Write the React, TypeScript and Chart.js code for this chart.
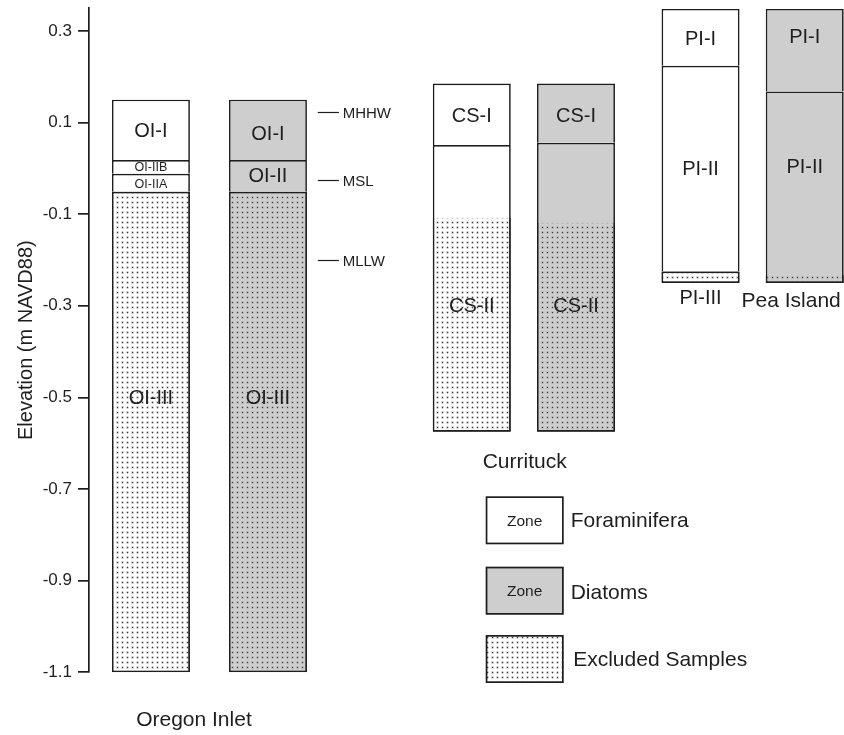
import React, { useEffect, useRef } from 'react';
import { Chart, registerables } from 'chart.js';

Chart.register(...registerables);

// ---------------- data ----------------
const yTickValues = [0.3, 0.1, -0.1, -0.3, -0.5, -0.7, -0.9, -1.1];

// columns: Oregon Inlet (forams, diatoms), Currituck (forams, diatoms), Pea Island (forams, diatoms)
const columnGroup = ['foram', 'diatom', 'foram', 'diatom', 'foram', 'diatom'];

const zoneNames = ['OI-I', 'OI-IIB', 'OI-IIA', 'OI-III', 'OI-I', 'OI-II', 'OI-III', 'CS-I', 'CS-II', 'CS-I', 'CS-II', 'PI-I', 'PI-II', 'PI-III', 'PI-I', 'PI-II'];
const zoneColumn = [0, 0, 0, 0, 1, 1, 1, 2, 2, 3, 3, 4, 4, 4, 5, 5];
const zoneTop = [0.15, 0.018, -0.012, -0.051, 0.15, 0.018, -0.051, 0.185, 0.051, 0.185, 0.056, 0.348, 0.224, -0.225, 0.348, 0.168];
const zoneBottom = [0.018, -0.012, -0.051, -1.1, 0.018, -0.051, -1.1, 0.051, -0.575, 0.056, -0.575, 0.224, -0.225, -0.25, 0.168, -0.25];
const zoneLabelElevation = [0.082, 0.003, -0.034, -0.5, 0.076, -0.016, -0.5, 0.116, -0.3, 0.116, -0.3, 0.283, 0.0, -0.281, 0.287, 0.004];

const excludedColumn = [0, 1, 2, 3, 4, 5];
const excludedTop = [-0.051, -0.051, -0.108, -0.119, -0.225, -0.233];
const excludedBottom = [-1.1, -1.1, -0.575, -0.575, -0.25, -0.25];

const datumNames = ['MHHW', 'MSL', 'MLLW'];
const datumElevation = [0.124, -0.026, -0.2];

const siteNames = ['Oregon Inlet', 'Currituck', 'Pea Island'];
const legendLabels = ['Foraminifera', 'Diatoms', 'Excluded Samples'];
const legendBoxText = ['Zone', 'Zone', ''];

// ---------------- layout (x in 0..100 chart units) ----------------
const columnX = [8.2, 23.7, 50.7, 64.5, 81.0, 94.8];
const siteLabelX = [13.9, 57.7, 93.0];
const siteLabelY = [-1.205, -0.6415, -0.289];
const datumLineX = [30.3, 33.1];
const datumTextX = 33.6;
const legendLeftPx = 485.7;
const legendTopsPx = [496.3, 566.7, 635];
const legendBoxW = 78;
const legendBoxH = 48;

const FONT = "'Liberation Sans', Arial, Helvetica, sans-serif";
const INK = '#1e1e1e';
const GRAY = '#cecece';
const BW = 1.7;

export default function App() {
  const ref = useRef<HTMLCanvasElement>(null);

  useEffect(() => {
    const canvas = ref.current!;
    const mainCtx = canvas.getContext('2d')!;
    const makePattern = (bg: string) => {
      const pc = document.createElement('canvas');
      pc.width = 5;
      pc.height = 5;
      const p = pc.getContext('2d')!;
      p.fillStyle = bg;
      p.fillRect(0, 0, 5, 5);
      p.fillStyle = '#9a9a9a';
      p.fillRect(1.5, 1.5, 2, 2);
      p.fillStyle = '#3a3a3a';
      p.fillRect(2, 2, 1, 1);
      return mainCtx.createPattern(pc, 'repeat')!;
    };
    const dotsWhite = makePattern('#ffffff');
    const dotsGray = makePattern(GRAY);

    const lowestInColumn = (c: number) =>
      Math.min(...zoneBottom.filter((_, i) => zoneColumn[i] === c));

    const zonePoints = (group: string) =>
      zoneNames
        .map((name, i) => ({ i, name }))
        .filter(({ i }) => columnGroup[zoneColumn[i]] === group)
        .map(({ i, name }) => {
          const c = zoneColumn[i];
          const isLowest = Math.abs(zoneBottom[i] - lowestInColumn(c)) < 1e-9;
          return {
            x: columnX[c],
            y: [zoneBottom[i], zoneTop[i]],
            name,
            bw: { top: BW, left: BW, right: BW, bottom: isLowest ? BW : 0 },
          };
        });

    const excludedPoints = excludedColumn.map((c, k) => {
      const onBoundary = zoneBottom.some(
        (b, i) => zoneColumn[i] === c && Math.abs(b - excludedTop[k]) < 1e-9
      );
      return {
        x: columnX[c],
        y: [excludedBottom[k], excludedTop[k]],
        group: columnGroup[c],
        bw: { top: onBoundary ? BW : 0, left: BW, right: BW, bottom: BW },
      };
    });

    const bwFn = (ctx: any) => (ctx.raw && ctx.raw.bw ? ctx.raw.bw : BW);

    const textPlugin = {
      id: 'textPlugin',
      afterDraw(chart: any) {
        const ctx = chart.ctx as CanvasRenderingContext2D;
        const xs = chart.scales.x;
        const ys = chart.scales.y;
        ctx.save();
        ctx.fillStyle = INK;
        ctx.textBaseline = 'middle';
        ctx.textAlign = 'center';

        // zone labels
        zoneNames.forEach((name, i) => {
          const c = zoneColumn[i];
          const x = xs.getPixelForValue(columnX[c]);
          const y = ys.getPixelForValue(zoneLabelElevation[i]);
          const yTop = ys.getPixelForValue(zoneTop[i]);
          const yBot = ys.getPixelForValue(zoneBottom[i]);
          const inside = y > yTop && y < yBot;
          const small = inside && yBot - yTop < 24;
          ctx.font = `${small ? 12.5 : 20}px ${FONT}`;
          ctx.fillText(name, x, y + 1);
        });

        // tidal datums
        ctx.strokeStyle = INK;
        ctx.lineWidth = 1.2;
        ctx.textAlign = 'left';
        ctx.font = `15px ${FONT}`;
        datumNames.forEach((name, i) => {
          const y = Math.round(ys.getPixelForValue(datumElevation[i])) + 0.5;
          ctx.beginPath();
          ctx.moveTo(xs.getPixelForValue(datumLineX[0]), y);
          ctx.lineTo(xs.getPixelForValue(datumLineX[1]), y);
          ctx.stroke();
          ctx.fillText(name, xs.getPixelForValue(datumTextX), y + 1);
        });

        // site names
        ctx.textAlign = 'center';
        ctx.font = `21px ${FONT}`;
        siteNames.forEach((name, i) => {
          ctx.fillText(name, xs.getPixelForValue(siteLabelX[i]), ys.getPixelForValue(siteLabelY[i]));
        });

        // legend
        const fills = ['#ffffff', GRAY, dotsWhite];
        legendLabels.forEach((label, i) => {
          const top = legendTopsPx[i];
          ctx.fillStyle = fills[i] as any;
          ctx.fillRect(legendLeftPx, top, legendBoxW, legendBoxH);
          ctx.strokeStyle = INK;
          ctx.lineWidth = BW;
          ctx.strokeRect(legendLeftPx + BW / 2, top + BW / 2, legendBoxW - BW, legendBoxH - BW);
          ctx.fillStyle = INK;
          if (legendBoxText[i]) {
            ctx.textAlign = 'center';
            ctx.font = `15.5px ${FONT}`;
            ctx.fillText(legendBoxText[i], legendLeftPx + legendBoxW / 2, top + legendBoxH / 2 + 1);
          }
          ctx.textAlign = 'left';
          ctx.font = `21px ${FONT}`;
          ctx.fillText(label, legendLeftPx + legendBoxW + (i === 2 ? 9.5 : 7), top + legendBoxH / 2 + (i === 1 ? 3 : 1));
        });
        ctx.restore();
      },
    };

    const chart = new Chart(canvas, {
      type: 'bar',
      data: {
        datasets: [
          {
            label: 'Excluded Samples',
            data: excludedPoints as any,
            grouped: false,
            order: 0,
            barThickness: 78,
            inflateAmount: 0,
            borderSkipped: false,
            borderColor: INK,
            borderWidth: bwFn as any,
            backgroundColor: ((ctx: any) =>
              ctx.raw && ctx.raw.group === 'diatom' ? dotsGray : dotsWhite) as any,
          },
          {
            label: 'Foraminifera',
            data: zonePoints('foram') as any,
            grouped: false,
            order: 1,
            barThickness: 78,
            inflateAmount: 0,
            borderSkipped: false,
            borderColor: INK,
            borderWidth: bwFn as any,
            backgroundColor: '#ffffff',
          },
          {
            label: 'Diatoms',
            data: zonePoints('diatom') as any,
            grouped: false,
            order: 1,
            barThickness: 78,
            inflateAmount: 0,
            borderSkipped: false,
            borderColor: INK,
            borderWidth: bwFn as any,
            backgroundColor: GRAY,
          },
        ],
      },
      options: {
        animation: false,
        responsive: false,
        devicePixelRatio: 1,
        layout: { padding: { left: 0, right: 0, top: 8, bottom: 62.7 } },
        plugins: { legend: { display: false }, tooltip: { enabled: false } },
        scales: {
          x: { type: 'linear', min: 0, max: 100, display: false, offset: false },
          y: {
            type: 'linear',
            min: -1.1,
            max: 0.35,
            afterBuildTicks: (scale: any) => {
              scale.ticks = yTickValues.map((v) => ({ value: v }));
            },
            afterFit: (scale: any) => {
              scale.width = 89;
              scale.paddingTop = 0;
              scale.paddingBottom = 0;
            },
            border: { display: true, color: INK, width: BW },
            grid: { drawOnChartArea: false, drawTicks: true, tickLength: 11, color: INK, lineWidth: BW },
            ticks: {
              padding: 6,
              color: INK,
              font: { family: FONT, size: 17 },
              callback: (v: any) => Number(v).toFixed(1),
            },
            title: {
              display: true,
              text: 'Elevation (m NAVD88)',
              color: INK,
              font: { family: FONT, size: 20 },
              padding: { top: 14, bottom: 0 },
            },
          },
        },
      },
      plugins: [textPlugin],
    });

    return () => chart.destroy();
  }, []);

  return (
    <div style={{ position: 'absolute', left: 0, top: 0, width: 844, height: 735, background: '#fff' }}>
      <canvas ref={ref} width={844} height={735} style={{ display: 'block' }} />
    </div>
  );
}
